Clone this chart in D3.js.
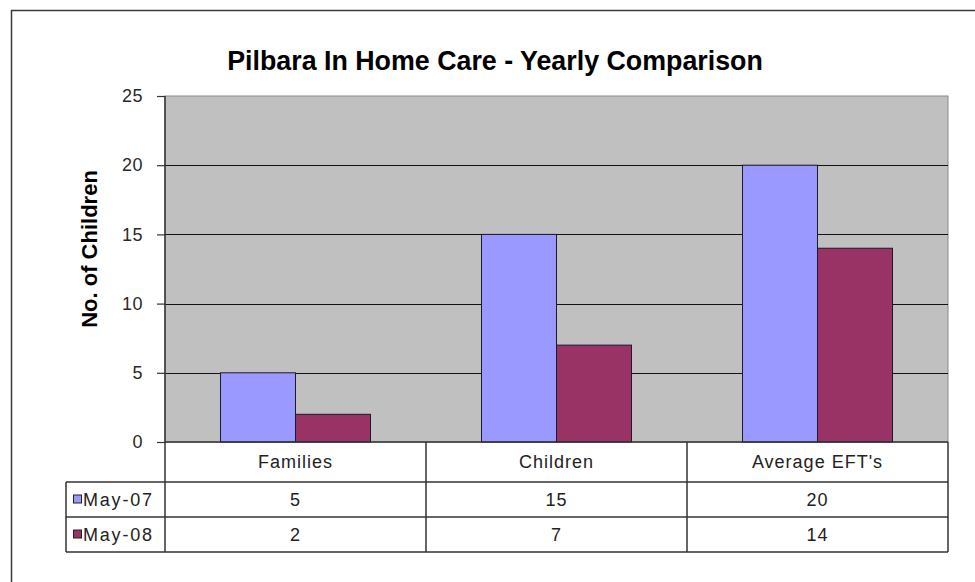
<!DOCTYPE html>
<html>
<head>
<meta charset="utf-8">
<script src="https://cdn.jsdelivr.net/npm/d3@7"></script>
<style>
  html, body { margin: 0; padding: 0; background: #fff; }
  svg { display: block; }
  text { font-family: "Liberation Sans", Arial, sans-serif; }
</style>
</head>
<body>
<svg id="chart" width="975" height="582"></svg>
<script>
// Chart data
const categories = ["Families", "Children", "Average EFT's"];
const seriesNames = ["May-07", "May-08"];
const may07 = [5, 15, 20];
const may08 = [2, 7, 14];
const yTicks = [0, 5, 10, 15, 20, 25];
const titleText = "Pilbara In Home Care - Yearly Comparison";
const yTitle = "No. of Children";

const seriesValues = [may07, may08];
const colors = ["#9999ff", "#993366"];

const svg = d3.select("#chart");

// Outer chart frame (runs off the right and bottom edges)
svg.append("rect")
  .attr("x", 11.5).attr("y", 10.5)
  .attr("width", 1000).attr("height", 1000)
  .attr("fill", "#fff").attr("stroke", "#3a3a3a").attr("stroke-width", 1.5);

const plot = { left: 165, right: 948, top: 96, bottom: 442 };

const x = d3.scaleBand().domain(categories).range([plot.left, plot.right]).padding(0);
const x1 = d3.scaleBand().domain(seriesNames).range([0, x.bandwidth()])
  .paddingInner(0).paddingOuter(0.74);
const y = d3.scaleLinear().domain([0, 25]).range([plot.bottom, plot.top]);

// Plot area background
svg.append("rect")
  .attr("x", plot.left).attr("y", plot.top)
  .attr("width", plot.right - plot.left).attr("height", plot.bottom - plot.top)
  .attr("fill", "#c0c0c0").attr("stroke", "#8a8a8a").attr("stroke-width", 1);

// Gridlines
svg.append("g")
  .selectAll("line")
  .data(yTicks.filter(d => d > 0 && d < 25))
  .join("line")
  .attr("x1", plot.left).attr("x2", plot.right)
  .attr("y1", d => Math.round(y(d)) + 0.5).attr("y2", d => Math.round(y(d)) + 0.5)
  .attr("stroke", "#111").attr("stroke-width", 1);

// Bars
const groups = svg.append("g")
  .selectAll("g")
  .data(categories)
  .join("g")
  .attr("transform", d => `translate(${x(d)},0)`);

groups.selectAll("rect")
  .data((c, i) => seriesNames.map((s, k) => ({ s, v: seriesValues[k][i], k })))
  .join("rect")
  .attr("x", d => x1(d.s))
  .attr("y", d => y(d.v))
  .attr("width", x1.bandwidth())
  .attr("height", d => y(0) - y(d.v))
  .attr("fill", d => colors[d.k])
  .attr("stroke", "#1a1a2a").attr("stroke-width", 1);

// Y axis
const yAxis = d3.axisLeft(y).tickValues(yTicks).tickSize(8).tickPadding(14);
const ya = svg.append("g")
  .attr("transform", `translate(${plot.left},0)`)
  .call(yAxis);
ya.select(".domain").remove();
ya.selectAll(".tick line").attr("stroke", "#333").attr("stroke-width", 1.2);
ya.selectAll(".tick text")
  .attr("font-size", 18).attr("fill", "#2a2a2a").attr("letter-spacing", 0.5)
  .attr("font-family", "'Liberation Sans', Arial, sans-serif");

// Axis line runs down through the data table
svg.append("line")
  .attr("x1", plot.left).attr("x2", plot.left)
  .attr("y1", plot.top).attr("y2", 552)
  .attr("stroke", "#333").attr("stroke-width", 1.5);

// Data table
const rowTop = [442, 482, 517];
const rowBottom = 552;
const legendLeft = 66;
const tableLines = svg.append("g").attr("stroke", "#333").attr("stroke-width", 1.5);

// horizontal lines
tableLines.append("line").attr("x1", plot.left).attr("x2", plot.right).attr("y1", rowTop[0]).attr("y2", rowTop[0]);
[rowTop[1], rowTop[2], rowBottom].forEach(yy => {
  tableLines.append("line").attr("x1", legendLeft).attr("x2", plot.right).attr("y1", yy).attr("y2", yy);
});
// vertical lines
tableLines.append("line").attr("x1", legendLeft).attr("x2", legendLeft).attr("y1", rowTop[1]).attr("y2", rowBottom);
categories.forEach(c => {
  const xx = x(c) + x.bandwidth();
  tableLines.append("line").attr("x1", xx).attr("x2", xx).attr("y1", rowTop[0]).attr("y2", rowBottom);
});

const cellFont = { size: 18, spacing: 1 };

// Category header row
svg.append("g")
  .selectAll("text")
  .data(categories)
  .join("text")
  .attr("x", d => x(d) + x.bandwidth() / 2)
  .attr("y", (rowTop[0] + rowTop[1]) / 2)
  .attr("dy", "0.36em")
  .attr("text-anchor", "middle")
  .attr("font-size", cellFont.size)
  .attr("letter-spacing", cellFont.spacing)
  .attr("fill", "#222")
  .text(d => d);

// Value rows with legend keys
seriesNames.forEach((s, k) => {
  const top = rowTop[k + 1];
  const bottom = k + 2 < rowTop.length ? rowTop[k + 2] : rowBottom;
  const cy = (top + bottom) / 2;

  svg.append("rect")
    .attr("x", 73.5).attr("y", cy - 4.5)
    .attr("width", 8).attr("height", 8)
    .attr("fill", colors[k]).attr("stroke", "#222").attr("stroke-width", 1);

  svg.append("text")
    .attr("x", 83).attr("y", cy)
    .attr("dy", "0.36em")
    .attr("font-size", cellFont.size)
    .attr("letter-spacing", 1.8)
    .attr("fill", "#222")
    .text(s);

  svg.append("g")
    .selectAll("text")
    .data(categories.map((c, i) => ({ c, v: seriesValues[k][i] })))
    .join("text")
    .attr("x", d => x(d.c) + x.bandwidth() / 2)
    .attr("y", cy)
    .attr("dy", "0.36em")
    .attr("text-anchor", "middle")
    .attr("font-size", cellFont.size)
    .attr("letter-spacing", cellFont.spacing)
    .attr("fill", "#222")
    .text(d => d.v);
});

// Title
svg.append("text")
  .attr("x", 495).attr("y", 70)
  .attr("text-anchor", "middle")
  .attr("font-size", 26.8).attr("font-weight", "bold")
  .attr("fill", "#000")
  .text(titleText);

// Y axis title
svg.append("text")
  .attr("transform", "translate(97,249) rotate(-90)")
  .attr("text-anchor", "middle")
  .attr("font-size", 22).attr("font-weight", "bold")
  .attr("fill", "#000")
  .text(yTitle);
</script>
</body>
</html>
